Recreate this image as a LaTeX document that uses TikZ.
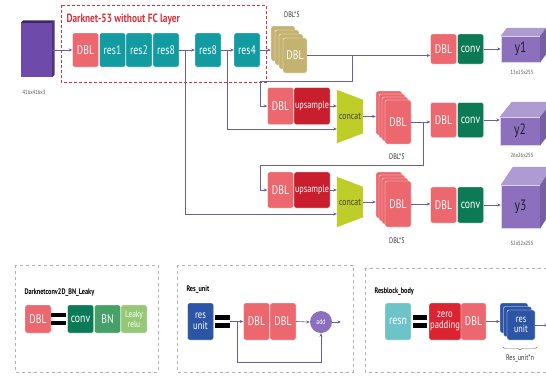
\documentclass[tikz,border=0pt]{standalone}
\usepackage{fontspec}
\setmainfont[FakeStretch=0.78]{PT Sans}
\usetikzlibrary{arrows.meta,backgrounds,calc,decorations.pathreplacing}

\definecolor{dblc}{RGB}{236,104,110}
\definecolor{resc}{RGB}{18,155,160}
\definecolor{upc}{RGB}{200,30,45}
\definecolor{convc}{RGB}{12,122,84}
\definecolor{catc}{RGB}{190,205,40}
\definecolor{olivec}{RGB}{196,178,112}
\definecolor{ycol}{RGB}{140,112,190}
\definecolor{inc}{RGB}{110,75,170}
\definecolor{bnc}{RGB}{72,160,105}
\definecolor{lkc}{RGB}{150,200,120}
\definecolor{unitc}{RGB}{45,85,165}
\definecolor{resnc}{RGB}{110,195,200}
\definecolor{zpc}{RGB}{220,35,50}
\definecolor{linec}{RGB}{105,95,155}
\definecolor{darkred}{RGB}{215,50,60}

\begin{document}
\begin{tikzpicture}[x=1pt,y=-1pt,font=\fontsize{12.5}{13}\selectfont,
  blk/.style={minimum width=26pt,minimum height=34pt,inner sep=0pt,text=white,rounded corners=2pt,draw=white,line width=0.4pt},
  card/.style={blk,fill=#1},
  ln/.style={linec,line width=0.6pt},
  arr/.style={ln,-{Stealth[length=3.5pt,width=3pt]}},
  dim/.style={font=\fontsize{6}{7}\selectfont,text=black!70},
  lbl/.style={font=\fontsize{8}{9}\selectfont,text=black!80},
  head/.style={font=\bfseries\fontsize{8}{9}\selectfont,anchor=west},
  panel/.style={draw=black!30,dashed,line width=0.6pt},
  eqb/.style={minimum width=14pt,minimum height=12pt,inner sep=0pt},
  cube/.style={fill=ycol,draw=white!70!ycol,line width=0.4pt,inner sep=0pt,text=black!75!ycol,font=\fontsize{15}{15}\selectfont}]

\useasboundingbox (0,0) rectangle (546,375);

\node[minimum width=31pt,minimum height=54pt,inner sep=0pt,fill=inc] (in) at (36.5,50) {};
\fill[inc!55!black] (in.north west) -- ++(2.5,-2.5) -- ($(in.north east)+(2.5,-2.5)$) -- (in.north east) -- cycle;
\fill[inc!70!black] (in.north east) -- ++(2.5,-2.5) -- ($(in.south east)+(2.5,-2.5)$) -- (in.south east) -- cycle;
\node[dim] (inl) at (34,92) {416x416x3};

\draw[darkred,line width=0.9pt,dash pattern=on 3pt off 2pt] (61,5) rectangle (266,82);
\node[anchor=west,text=darkred,font=\bfseries\fontsize{12}{13}\selectfont] (ttl) at (63,19) {Darknet-53 without FC layer};

\node[card=dblc] (d0) at (85.5,50) {DBL};
\node[card=resc] (r1) at (112.5,50) {res1};
\node[card=resc] (r2) at (139,50) {res2};
\node[card=resc] (r3) at (166,50) {res8};
\node[card=resc] (r4) at (208,50) {res8};
\node[card=resc] (r5) at (247,50) {res4};

\foreach \i/\n in {3/stk1c,2/stk1b,1/stk1a}{
  \node[card=olivec,minimum width=24pt,minimum height=35pt] (\n) at ({295-4*\i},{55.5-4*\i}) {};}
\node[card=olivec,minimum width=24pt,minimum height=35pt] (stk1) at (295,55.5) {DBL};
\node[lbl] (stk1l) at (292,15) {DBL*5};

\node[card=dblc,minimum height=30pt] (dbl1) at (443.5,49) {DBL};
\node[card=convc,minimum height=30pt] (conv1) at (470.5,49) {conv};

\node[card=dblc,minimum height=37pt] (dblu2) at (280.5,106) {DBL};
\node[card=upc,minimum width=36pt,minimum height=37pt,font=\fontsize{10.5}{11}\selectfont] (up2) at (312,106) {upsample};
\node[minimum width=26pt,minimum height=53pt,inner sep=0pt,text=black!75,font=\fontsize{10}{11}\selectfont] (cat2) at (350,116.5) {concat};
\foreach \i/\n in {3/stk2c,2/stk2b,1/stk2a}{
  \node[card=dblc,minimum width=26pt,minimum height=44pt] (\n) at ({398-3*\i},{122-3*\i}) {};}
\node[card=dblc,minimum width=26pt,minimum height=44pt] (stk2) at (398,122) {DBL};
\node[lbl] (stk2l) at (397,157) {DBL*5};
\node[card=dblc,minimum height=35pt] (dbl2) at (443.5,120) {DBL};
\node[card=convc,minimum height=35pt] (conv2) at (470.5,120) {conv};

\node[card=dblc,minimum height=36pt] (dblu3) at (280.5,190) {DBL};
\node[card=upc,minimum width=36pt,minimum height=36pt,font=\fontsize{10.5}{11}\selectfont] (up3) at (312,190) {upsample};
\node[minimum width=26pt,minimum height=50pt,inner sep=0pt,text=black!75,font=\fontsize{10}{11}\selectfont] (cat3) at (350,202) {concat};
\foreach \i/\n in {3/stk3c,2/stk3b,1/stk3a}{
  \node[card=dblc,minimum width=26pt,minimum height=46pt] (\n) at ({398-3*\i},{204-3*\i}) {};}
\node[card=dblc,minimum width=26pt,minimum height=46pt] (stk3) at (398,204) {DBL};
\node[lbl] (stk3l) at (397,241) {DBL*5};
\node[card=dblc,minimum height=36pt] (dbl3) at (443.5,205) {DBL};
\node[card=convc,minimum height=36pt] (conv3) at (470.5,205) {conv};

\begin{scope}[on background layer]
  \foreach \c in {cat2,cat3}{
    \fill[catc] (\c.north west) -- ($(\c.north east)+(0,10)$) -- ($(\c.south east)+(0,-10)$) -- (\c.south west) -- cycle;}
\end{scope}

\node[cube,minimum width=39pt,minimum height=26pt] (y1) at (520.5,49) {y1};
\node[cube,minimum width=40pt,minimum height=28pt] (y2) at (520,131) {y2};
\node[cube,minimum width=39pt,minimum height=43pt] (y3) at (520.5,206.5) {y3};
\foreach \n/\dx/\dy in {y1/6/8,y2/12/15,y3/12/18}{
  \fill[ycol!70!white] (\n.north west) -- ($(\n.north west)+(\dx,-\dy)$) -- ($(\n.north east)+(\dx,-\dy)$) -- (\n.north east) -- cycle;
  \fill[ycol!85!black] (\n.north east) -- ($(\n.north east)+(\dx,-\dy)$) -- ($(\n.south east)+(\dx,-\dy)$) -- (\n.south east) -- cycle;}
\node[dim] (y1l) at (522,72) {13x13x255};
\node[dim] (y2l) at (522,155) {26x26x255};
\node[dim] (y3l) at (522,243) {52x52x255};

\coordinate (k1) at (185,50);
\coordinate (k2) at (227,50);
\coordinate (k3) at (352,55.5);
\coordinate (j3) at (260,81);
\coordinate (k4) at (423,122);
\coordinate (j4) at (260,165);

\draw[arr] (in.east) -- (d0.west);
\draw[arr] (r3.east) -- (r4.west);
\draw[arr] (r4.east) -- (r5.west);
\draw[arr] (r5.east) -- (r5.east -| stk1c.west);
\draw[arr] (stk1.east) -- (stk1.east -| dbl1.west);
\draw[arr] (conv1.east) -- (conv1.east -| y1.west);
\draw[arr] (k3) |- (j3) |- (dblu2.west);
\draw[arr] (k2) |- ([yshift=-12.5pt]cat2.west);
\draw[arr] (up2.east) -- (up2.east -| cat2.west);
\draw[arr] (cat2.east) -- (cat2.east -| stk2c.west);
\draw[arr] (stk2.east) -- (stk2.east -| dbl2.west);
\draw[arr] (conv2.east) -- (conv2.east -| y2.west);
\draw[arr] (k4) |- (j4) |- (dblu3.west);
\draw[arr] (k1) |- ([yshift=-12pt]cat3.west);
\draw[arr] (up3.east) -- (up3.east -| cat3.west);
\draw[arr] (cat3.east) -- (cat3.east -| stk3c.west);
\draw[arr] (stk3.east) -- (stk3.east -| dbl3.west);
\draw[arr] (conv3.east) -- (conv3.east -| y3.west);

\draw[panel] (15,265) rectangle (158,372);
\node[head] (h1) at (21,293) {Darknetconv2D\_BN\_Leaky};
\node[card=dblc,minimum height=28pt] (pd1) at (38,319) {DBL};
\node[eqb] (eq1) at (58.5,319) {};
\node[card=convc,minimum height=28pt] (pc1) at (80.5,319) {conv};
\node[card=bnc,minimum height=28pt] (pb1) at (107.5,319) {BN};
\node[card=lkc,minimum height=28pt,align=center,font=\fontsize{9.5}{9.5}\selectfont] (pl1) at (134,319) {Leaky\\relu};

\draw[panel] (177,265) rectangle (353,372);
\node[head] (h2) at (183,290) {Res\_unit};
\node[card=unitc,minimum height=37pt,align=center,font=\fontsize{11}{11}\selectfont] (pu2) at (200.5,321.5) {res\\unit};
\node[eqb] (eq2) at (222.5,321.5) {};
\node[card=dblc,minimum height=37pt] (pd2) at (256.5,321.5) {DBL};
\node[card=dblc,minimum height=37pt] (pe2) at (283,321.5) {DBL};
\node[circle,fill=ycol,minimum size=22pt,inner sep=0pt,text=white,font=\fontsize{7.5}{8}\selectfont] (ad2) at (321,322) {add};
\coordinate (k5) at (237,321.5);
\coordinate (j5) at (321,362);
\coordinate (o2) at (341,322);
\draw[arr] (eq2.east) -- (pd2.west);
\draw[arr] (pe2.east) -- (ad2.west);
\draw[arr] (ad2.east) -- (o2);
\draw[arr] (k5) |- (j5) -- (ad2.south);

\draw[panel] (365,268) rectangle (550,372);
\node[head] (h3) at (371,292) {Resblock\_body};
\node[card=resnc,minimum height=37pt] (pn3) at (398,321.5) {resn};
\node[eqb] (eq3) at (420,321.5) {};
\node[card=zpc,minimum width=32pt,minimum height=37pt,align=center,font=\fontsize{11}{11}\selectfont] (pz3) at (445,321.5) {zero\\padding};
\node[card=dblc,minimum width=25pt,minimum height=37pt] (pd3) at (473.5,321.5) {DBL};
\foreach \i/\n in {2/ru3b,1/ru3a}{
  \node[card=unitc,minimum width=28pt,minimum height=30pt] (\n) at ({521-3.5*\i},{325-3.5*\i}) {};}
\node[card=unitc,minimum width=28pt,minimum height=30pt,align=center,font=\fontsize{10.5}{10.5}\selectfont] (ru3) at (521,325) {res\\unit};
\coordinate (o3) at (548,325);
\draw[arr] (pd3.east) -- (pd3.east -| ru3b.west);
\draw[arr] (ru3.east) -- (o3);
\draw[black!60,decorate,decoration={brace,mirror,amplitude=3pt}] (503,347) -- (537,347);
\node[lbl] (rl3) at (520,358) {Res\_unit*n};

\foreach \e in {eq1,eq2,eq3}{
  \fill[black] (\e.north west) rectangle ([yshift=-4.5pt]\e.north east);
  \fill[black] ([yshift=4.5pt]\e.south west) rectangle (\e.south east);}
\end{tikzpicture}
\end{document}
